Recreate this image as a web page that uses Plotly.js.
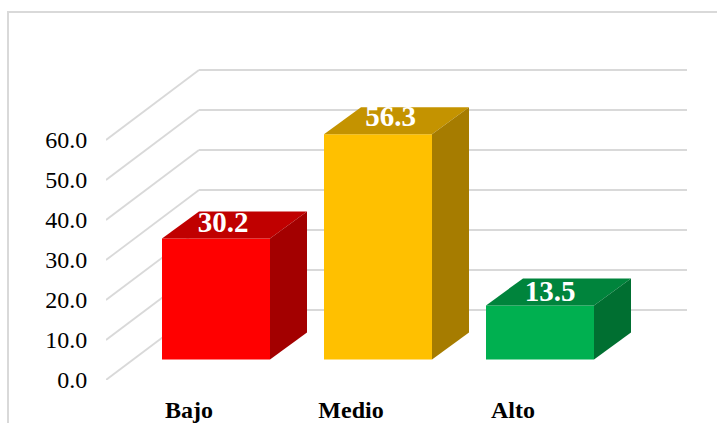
<!DOCTYPE html>
<html>
<head>
<meta charset="utf-8">
<script src="https://cdn.plot.ly/plotly-3.0.1.min.js"></script>
<style>html,body{margin:0;padding:0;background:#fff;overflow:hidden}#c{width:717px;height:423px}</style>
</head>
<body>
<div id="c"></div>
<script>
// Data
const categories = ['Bajo', 'Medio', 'Alto'];
const values = [30.2, 56.3, 13.5];
const valueLabels = ['30.2', '56.3', '13.5'];
const yTicks = [0, 10, 20, 30, 40, 50, 60];
const yTickLabels = ['0.0', '10.0', '20.0', '30.0', '40.0', '50.0', '60.0'];
const frontColors = ['#FF0000', '#FFC000', '#00B050'];
const topColors = ['#C00000', '#C49300', '#00843C'];
const sideColors = ['#A30000', '#A67C00', '#006F31'];

// Oblique-projection geometry, in axis units (162 px per category, 4 px per value unit)
const W = 717, H = 423, L = 106, T = 12, B = 43;
const pxX = 162, pxY = 4;
const xMin = -83 / pxX, xMax = xMin + (W - L) / pxX;
const wallDx = 93 / pxX, wallDy = 70 / pxY, wallEnd = 498 / pxX;
const barLeft = -27 / pxX, barW = 108 / pxX, barBase = 20.6 / pxY;
const depthDx = 37 / pxX, depthDy = 27 / pxY;
const labelDx = [34 / pxX, 39.5 / pxX, 37 / pxX], labelDy = [14 / pxY, 15 / pxY, 12 / pxY];
const serif = '"Liberation Serif", "Times New Roman", serif';
const idx = categories.map((_, i) => i);

const face = (xs, ys, color) => ({
  type: 'scatter', mode: 'lines', x: xs, y: ys, fill: 'toself', fillcolor: color,
  line: {width: 0, color: color}, hoverinfo: 'skip', showlegend: false
});

const traces = [{
  type: 'bar', x: idx, y: values, base: barBase, width: barW, offset: barLeft,
  marker: {color: frontColors, line: {width: 0}}, showlegend: false, hoverinfo: 'skip'
}];
idx.forEach(i => {
  const x0 = i + barLeft, x1 = x0 + barW, yb = barBase, yt = barBase + values[i];
  traces.push(face([x0, x1, x1 + depthDx, x0 + depthDx, x0], [yt, yt, yt + depthDy, yt + depthDy, yt], topColors[i]));
  traces.push(face([x1, x1 + depthDx, x1 + depthDx, x1, x1], [yb, yb + depthDy, yt + depthDy, yt, yb], sideColors[i]));
});
traces.push({
  type: 'scatter', mode: 'text', x: idx.map(i => i + labelDx[i]),
  y: idx.map(i => barBase + values[i] + labelDy[i]), text: valueLabels,
  textposition: 'middle center', textfont: {family: serif, size: 29, color: '#FFFFFF', weight: 700},
  hoverinfo: 'skip', showlegend: false, cliponaxis: false
});

const gridLine = {color: '#D9D9D9', width: 1.8};
const shapes = [];
yTicks.forEach(v => {
  shapes.push({type: 'line', layer: 'below', xref: 'x', yref: 'y', x0: xMin, y0: v, x1: xMin + wallDx, y1: v + wallDy, line: gridLine});
  shapes.push({type: 'line', layer: 'below', xref: 'x', yref: 'y', x0: xMin + wallDx, y0: v + wallDy, x1: wallEnd, y1: v + wallDy, line: gridLine});
});
// Outer chart frame: left and top edges only
const fx = px => (px - L) / (W - L), fy = px => 1 - (px - T) / (H - T - B);
const frame = {color: '#D9D9D9', width: 2};
shapes.push({type: 'line', layer: 'below', xref: 'paper', yref: 'paper', x0: fx(8), y0: fy(12), x1: fx(8), y1: fy(423), line: frame});
shapes.push({type: 'line', layer: 'below', xref: 'paper', yref: 'paper', x0: fx(7), y0: fy(12), x1: fx(717), y1: fy(12), line: frame});

const layout = {
  width: W, height: H, margin: {l: L, r: 0, t: T, b: B, pad: 0},
  paper_bgcolor: '#FFFFFF', plot_bgcolor: 'rgba(0,0,0,0)', showlegend: false,
  xaxis: {
    type: 'linear', range: [xMin, xMax], tickmode: 'array', tickvals: idx,
    ticktext: categories.map(c => '<b>' + c + '</b>'), showgrid: false, zeroline: false, showline: false,
    ticks: 'outside', ticklen: 8, tickcolor: 'rgba(0,0,0,0)', tickwidth: 0,
    tickfont: {family: serif, size: 24, color: '#000000'}, fixedrange: true
  },
  yaxis: {
    type: 'linear', range: [0, (H - T - B) / pxY], tickmode: 'array', tickvals: yTicks,
    ticktext: yTickLabels, showgrid: false, zeroline: false, showline: false,
    ticks: 'outside', ticklen: 13, tickcolor: 'rgba(0,0,0,0)', tickwidth: 0,
    tickfont: {family: serif, size: 24, color: '#000000'}, fixedrange: true
  },
  shapes: shapes
};
Plotly.newPlot('c', traces, layout, {displayModeBar: false, staticPlot: true});
</script>
</body>
</html>
